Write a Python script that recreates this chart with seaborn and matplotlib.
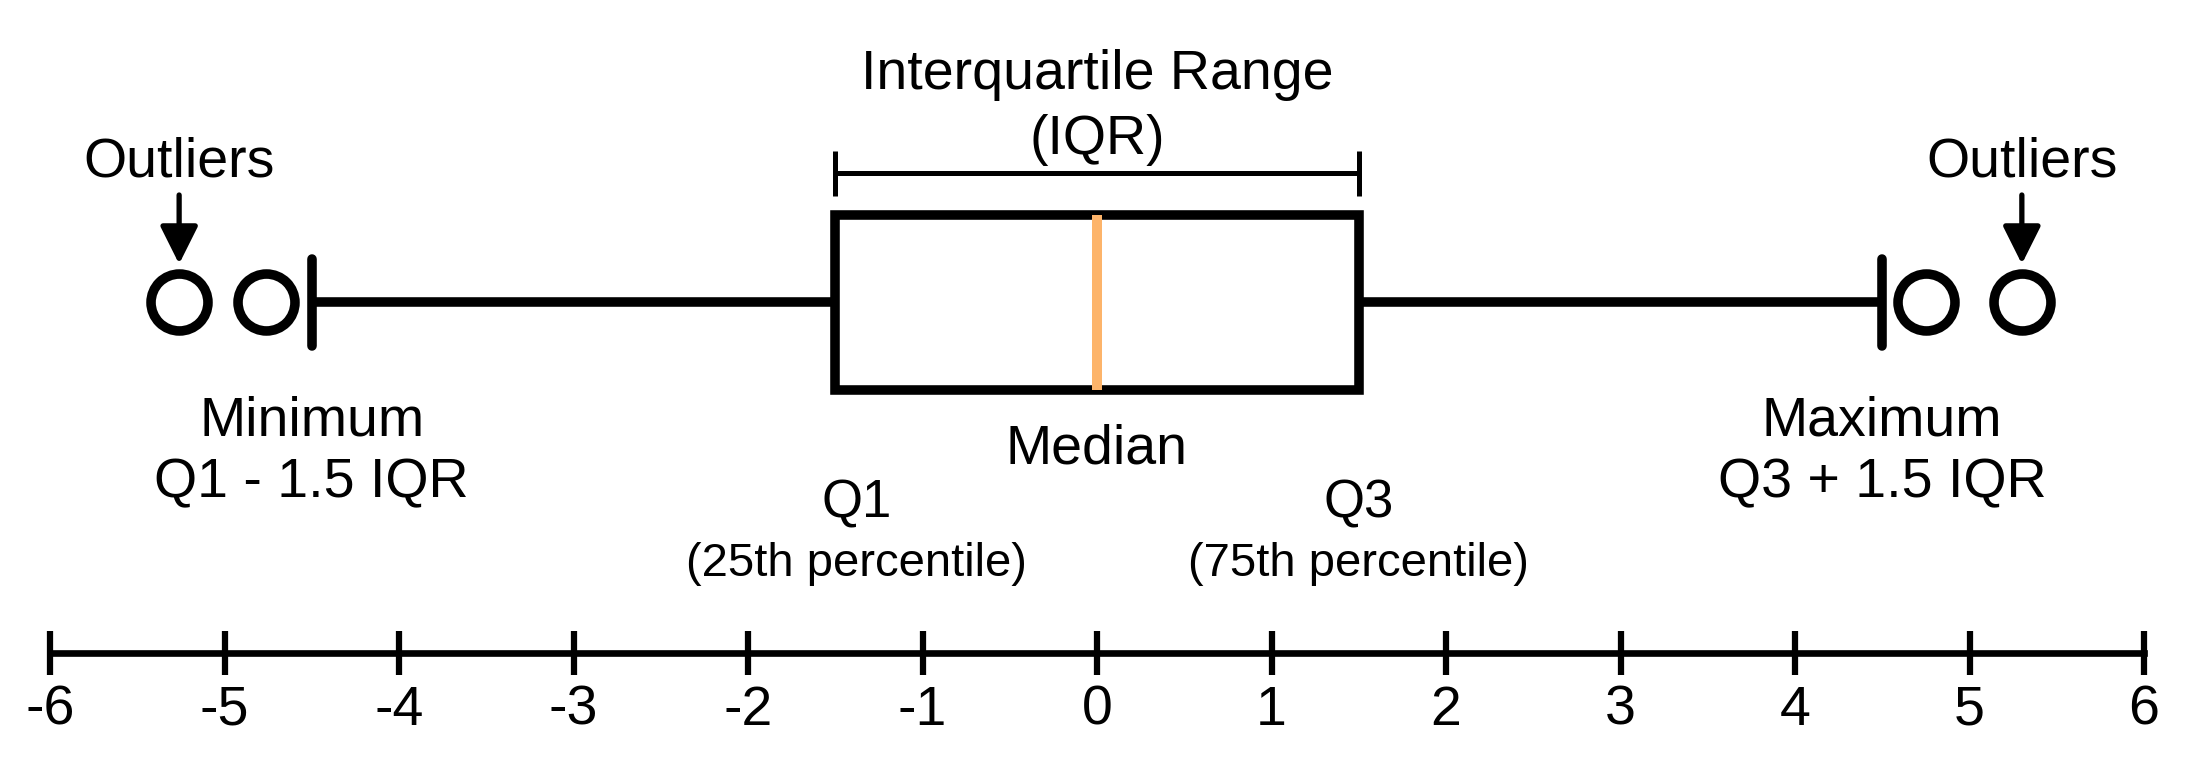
import matplotlib
matplotlib.use("Agg")
import matplotlib.pyplot as plt
import numpy as np
import pandas as pd
import seaborn as sns

sns.set_theme(style="white")
plt.rcParams["font.family"] = ["Liberation Sans", "DejaVu Sans"]
plt.rcParams["axes.unicode_minus"] = False
plt.rcParams["text.color"] = "black"

# sample values: Q1=-1.5, median=0, Q3=1.5, whisker ends +-4.5, two outliers each side
values = [-5.26, -4.76, -4.5, -1.5, -1.5, 0, 0, 0, 1.5, 1.5, 4.5, 4.75, 5.3]
ticks = [-6, -5, -4, -3, -2, -1, 0, 1, 2, 3, 4, 5, 6]
tick_labels = [str(t) for t in ticks]

ORANGE = "#FDB46A"
LW = 6.9

df = pd.DataFrame({"value": values, "group": "box"})
q1, med, q3 = np.percentile(values, [25, 50, 75])
whis_lo, whis_hi = -4.5, 4.5


def ypx(p):
    # pixel row (from top) -> data y, box centre sits on row 302.5
    return (p - 302.5) / 218.75


fig = plt.figure(figsize=(22, 7.75), dpi=100)
ax = fig.add_axes([0, 0, 1, 1])

sns.boxplot(data=df, x="value", y="group", orient="h", whis=1.0, width=0.8,
            color="white", linecolor="black", linewidth=LW, fliersize=41,
            flierprops=dict(marker="o", markersize=41, markeredgewidth=LW,
                            markerfacecolor="white", markeredgecolor="black"),
            medianprops=dict(color=ORANGE, linewidth=7.2, solid_capstyle="butt"),
            ax=ax)

ax.set_xlim(-6 - 50 / 174.5, -6 + 2150 / 174.5)
ax.set_ylim(ypx(775), ypx(0))
ax.set_xlabel("")
ax.set_ylabel("")
ax.set_yticks([])

# number line
for s in ["top", "right", "left"]:
    ax.spines[s].set_visible(False)
ax.spines["bottom"].set_position(("data", ypx(653)))
ax.spines["bottom"].set_bounds(-6, 6)
ax.spines["bottom"].set_linewidth(4.8)
ax.spines["bottom"].set_color("black")
ax.set_xticks(ticks, labels=tick_labels)
ax.tick_params(axis="x", direction="inout", length=32, width=4.5, pad=7,
               labelsize=40, colors="black", bottom=True)

# IQR bracket
kw = dict(color="black", lw=3.6, solid_capstyle="butt")
ax.plot([q1, q3], [ypx(173), ypx(173)], **kw)
ax.plot([q1, q1], [ypx(151), ypx(196)], **kw)
ax.plot([q3, q3], [ypx(151), ypx(196)], **kw)

big = 40
ax.text(med, ypx(89), "Interquartile Range", ha="center", va="baseline", fontsize=big)
ax.text(med, ypx(154), "(IQR)", ha="center", va="baseline", fontsize=big)

# outlier call-outs
for xo in [min(values), max(values)]:
    ax.text(xo, ypx(177), "Outliers", ha="center", va="baseline", fontsize=big)
    ax.annotate("", xy=(xo, ypx(264)), xytext=(xo, ypx(195)),
                arrowprops=dict(arrowstyle="-|>,head_length=0.4,head_width=0.2",
                                mutation_scale=58, lw=3.8, color="black",
                                shrinkA=0, shrinkB=0))

ax.text(whis_lo, ypx(435), "Minimum", ha="center", va="baseline", fontsize=big)
ax.text(whis_lo, ypx(497), "Q1 - 1.5 IQR", ha="center", va="baseline", fontsize=big)
ax.text(whis_hi, ypx(435), "Maximum", ha="center", va="baseline", fontsize=big)
ax.text(whis_hi, ypx(497), "Q3 + 1.5 IQR", ha="center", va="baseline", fontsize=big)

ax.text(med, ypx(463), "Median", ha="center", va="baseline", fontsize=big)
ax.text(q1 + 0.12, ypx(518), "Q1", ha="center", va="baseline", fontsize=38)
ax.text(q1 + 0.12, ypx(576), "(25th percentile)", ha="center", va="baseline", fontsize=34)
ax.text(q3, ypx(518), "Q3", ha="center", va="baseline", fontsize=38)
ax.text(q3, ypx(576), "(75th percentile)", ha="center", va="baseline", fontsize=34)

fig.savefig("out.png", dpi=100, facecolor="white")
